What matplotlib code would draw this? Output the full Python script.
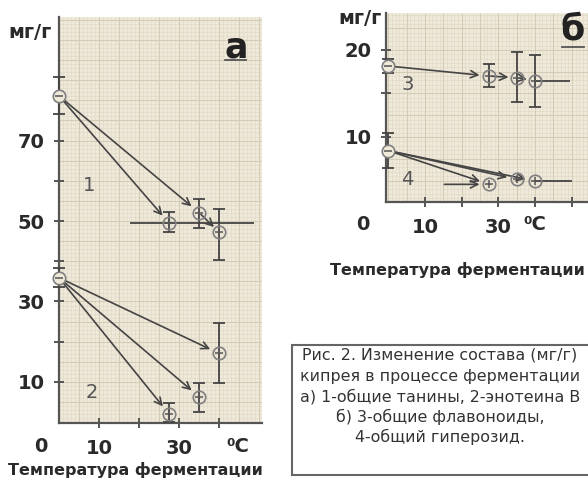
import numpy as np
import matplotlib
matplotlib.use("Agg")
import matplotlib.pyplot as plt
from matplotlib.lines import Line2D
from matplotlib.patches import Rectangle

plt.rcParams['font.family'] = ['DejaVu Sans']

# --- данные, панель а (общие танины / энотеин В), мг/г ---
temp = [27.5, 35, 40]            # температура ферментации, °C
s1_start, s1_start_err = 81.1, 4.6
s1 = [49.5, 52.1, 47.3]
s1_lo = [47.3, 48.3, 40.3]
s1_hi = [52.2, 55.5, 52.9]
s1_hline = [17.75, 48.75]        # горизонтальная линия на уровне первой точки

s2_start, s2_start_err = 35.9, 2.4
s2 = [2.05, 6.35, 17.1]
s2_lo = [0.14, 2.6, 9.75]
s2_hi = [4.7, 9.7, 24.7]

# --- данные, панель б (флавоноиды / гиперозид), мг/г ---
s3_start, s3_start_err = 18.16, 0.75
s3 = [17.0, 16.82, 16.47]
s3_lo = [15.78, 14.06, 13.41]
s3_hi = [18.36, 19.8, 19.43]
s3_hline = [40, 49.5]

s4_start, s4_start_err = 8.43, 2.0
s4 = [4.56, 5.13, 4.94]
s4_hline = [40, 50]
s4_arrow_from = 14.5

yticks_a = [10, 20, 30, 40, 50, 60, 70]
ylabels_a = ['10', '', '30', '', '50', '', '70']
xticks_a = [10, 20, 30, 40]
xlabels_a = ['10', '', '30', '']
yticks_b = [10, 15, 20]
ylabels_b = ['10', '', '20']
xticks_b = [10, 20, 30, 40, 50]
xlabels_b = ['10', '', '30', '', '']

caption = ["Рис. 2. Изменение состава (мг/г)",
           "кипрея в процессе ферментации",
           "а) 1-общие танины, 2-энотеина В",
           "б) 3-общие флавоноиды,",
           "4-общий гиперозид."]

PAPER = '#efe9da'
DARK = '#444444'

W, H = 588, 480
fig = plt.figure(figsize=(W / 100, H / 100), dpi=100)
fig.patch.set_facecolor('white')


def px_axes(l, t, r, b):
    return fig.add_axes([l / W, 1 - b / H, (r - l) / W, (b - t) / H])


def paper(ax, xstep, ystep, xmaj, ymaj):
    x0, x1 = ax.get_xlim()
    y0, y1 = ax.get_ylim()
    xs = np.arange(np.ceil(x0 / xstep) * xstep, x1, xstep)
    ys = np.arange(np.ceil(y0 / ystep) * ystep, y1, ystep)
    ax.vlines(xs, y0, y1, color='#e2dac9', lw=0.5, zorder=0)
    ax.hlines(ys, x0, x1, color='#e2dac9', lw=0.5, zorder=0)
    xm = np.arange(np.ceil(x0 / xmaj) * xmaj, x1, xmaj)
    ym = np.arange(np.ceil(y0 / ymaj) * ymaj, y1, ymaj)
    ax.vlines(xm, y0, y1, color='#d5ccb8', lw=0.8, zorder=0)
    ax.hlines(ym, x0, x1, color='#d5ccb8', lw=0.8, zorder=0)


def style(ax):
    ax.set_facecolor(PAPER)
    for s in ['top', 'right']:
        ax.spines[s].set_visible(False)
    for s in ['left', 'bottom']:
        ax.spines[s].set_color('#555555')
        ax.spines[s].set_linewidth(1.6)
    ax.tick_params(direction='inout', length=7, width=1.4, color='#555555',
                   labelsize=14, labelcolor='#2a2a2a')
    ax.tick_params(axis='x', pad=8)
    ax.tick_params(axis='y', pad=7)
    for lab in ax.get_xticklabels() + ax.get_yticklabels():
        lab.set_fontweight('bold')


def points(ax, x, y, lo=None, hi=None):
    if lo is not None:
        ax.errorbar(x, y, yerr=[np.subtract(y, lo), np.subtract(hi, y)], fmt='none',
                    ecolor=DARK, elinewidth=1.3, capsize=4, capthick=1.3, zorder=3)
    ax.plot(x, y, 'o', mfc='none', mec='#808080', ms=9, mew=1.2, zorder=4, clip_on=False)
    ax.plot(x, y, '+', color='#555555', ms=6, mew=1.1, zorder=4)


def start(ax, y, err):
    ax.errorbar([0], [y], yerr=err, fmt='none', ecolor=DARK, elinewidth=1.3,
                capsize=4, capthick=1.3, zorder=3, clip_on=False)
    ax.plot([0], [y], 'o', mfc=PAPER, mec='#808080', ms=9, mew=1.2, zorder=4, clip_on=False)
    ax.plot([0], [y], '_', color='#555555', ms=6, mew=1.1, zorder=5, clip_on=False)


def arrow(ax, x0, y0, x1, y1, shrink=7):
    ax.annotate('', xy=(x1, y1), xytext=(x0, y0),
                arrowprops=dict(arrowstyle='->', color=DARK, lw=1.2,
                                shrinkA=2, shrinkB=shrink, mutation_scale=13),
                zorder=2)


# ---------------- панель а ----------------
ax_a = px_axes(59, 17, 262, 423)
ax_a.set_xlim(0, 50.75)
ax_a.set_ylim(-0.2, 100.7)
paper(ax_a, 1, 1, 5, 5)
ax_a.set_xticks(xticks_a, xlabels_a)
ax_a.set_yticks(yticks_a, ylabels_a)
style(ax_a)

ax_a.hlines(s1[0], s1_hline[0], s1_hline[1], color=DARK, lw=1.3, zorder=2)
arrow(ax_a, 0, s1_start, temp[0], s1[0])
arrow(ax_a, 0, s1_start, temp[1], s1[1])
arrow(ax_a, temp[1], s1[1], temp[2], s1[2], shrink=5)
points(ax_a, temp, s1, s1_lo, s1_hi)
start(ax_a, s1_start, s1_start_err)

for t, v in zip(temp, s2):
    arrow(ax_a, 0, s2_start, t, v)
points(ax_a, temp, s2, s2_lo, s2_hi)
start(ax_a, s2_start, s2_start_err)

ax_a.text(7.5, 58.9, '1', fontsize=14, color='#555555', ha='center', va='center')
ax_a.text(8.25, 7.3, '2', fontsize=14, color='#555555', ha='center', va='center')

# ---------------- панель б ----------------
ax_b = px_axes(386, 13, 588, 202)
ax_b.set_xlim(-0.63, 54.4)
ax_b.set_ylim(2.53, 24.25)
paper(ax_b, 1, 0.5, 5, 2.5)
ax_b.set_xticks(xticks_b, xlabels_b)
ax_b.set_yticks(yticks_b, ylabels_b)
style(ax_b)

ax_b.hlines(s3[2], s3_hline[0], s3_hline[1], color=DARK, lw=1.3, zorder=2)
arrow(ax_b, 0, s3_start, temp[0], s3[0])
arrow(ax_b, temp[0], s3[0], temp[1], s3[1], shrink=6)
arrow(ax_b, temp[1], s3[1], temp[2], s3[2], shrink=6)
points(ax_b, temp, s3, s3_lo, s3_hi)
start(ax_b, s3_start, s3_start_err)

ax_b.hlines(s4[2], s4_hline[0], s4_hline[1], color=DARK, lw=1.3, zorder=2)
arrow(ax_b, s4_arrow_from, s4[0], temp[0], s4[0])
for t, v in zip(temp, s4):
    arrow(ax_b, 0, s4_start, t, v)
points(ax_b, temp, s4)
start(ax_b, s4_start, s4_start_err)

ax_b.text(5.4, 15.98, '3', fontsize=14, color='#555555', ha='center', va='center')
ax_b.text(5.1, 5.06, '4', fontsize=14, color='#555555', ha='center', va='center')


# ---------------- подписи ----------------
def ftext(x, y, s, **kw):
    fig.text(x / W, 1 - y / H, s, **kw)


bold = dict(fontweight='bold', color='#2a2a2a', va='center')
ftext(30, 32, 'мг/г', fontsize=14, ha='center', **bold)
ftext(360, 19, 'мг/г', fontsize=14, ha='center', **bold)
ftext(41, 447, '0', fontsize=14, ha='center', **bold)
ftext(238, 447, '⁰C', fontsize=14, ha='center', **bold)
ftext(363, 225, '0', fontsize=14, ha='center', **bold)
ftext(535, 225, '⁰C', fontsize=14, ha='center', **bold)
ftext(135, 470, 'Температура ферментации', fontsize=11.5, ha='center', **bold)
ftext(457, 270, 'Температура ферментации', fontsize=11.5, ha='center', **bold)

ftext(236, 48, 'а', fontsize=25, ha='center', va='center', color='#222222',
      fontweight='bold')
ftext(573, 29, 'б', fontsize=25, ha='center', va='center', color='#222222',
      fontweight='bold')
for x0, x1, y in [(225, 246, 60), (562, 584, 47)]:
    fig.add_artist(Line2D([x0 / W, x1 / W], [1 - y / H] * 2, color='#555555', lw=1.3))

fig.add_artist(Rectangle((292 / W, 1 - 475 / H), (610 - 292) / W, 130 / H,
                         transform=fig.transFigure, facecolor='white',
                         edgecolor='#666666', lw=1.5))
cap = dict(fontsize=11.4, color='#333333', va='center', ha='center')
for line, y in zip(caption, [355, 376.5, 396.5, 417, 436.5]):
    ftext(440, y, line, **cap)

fig.savefig('out.png', dpi=100)
